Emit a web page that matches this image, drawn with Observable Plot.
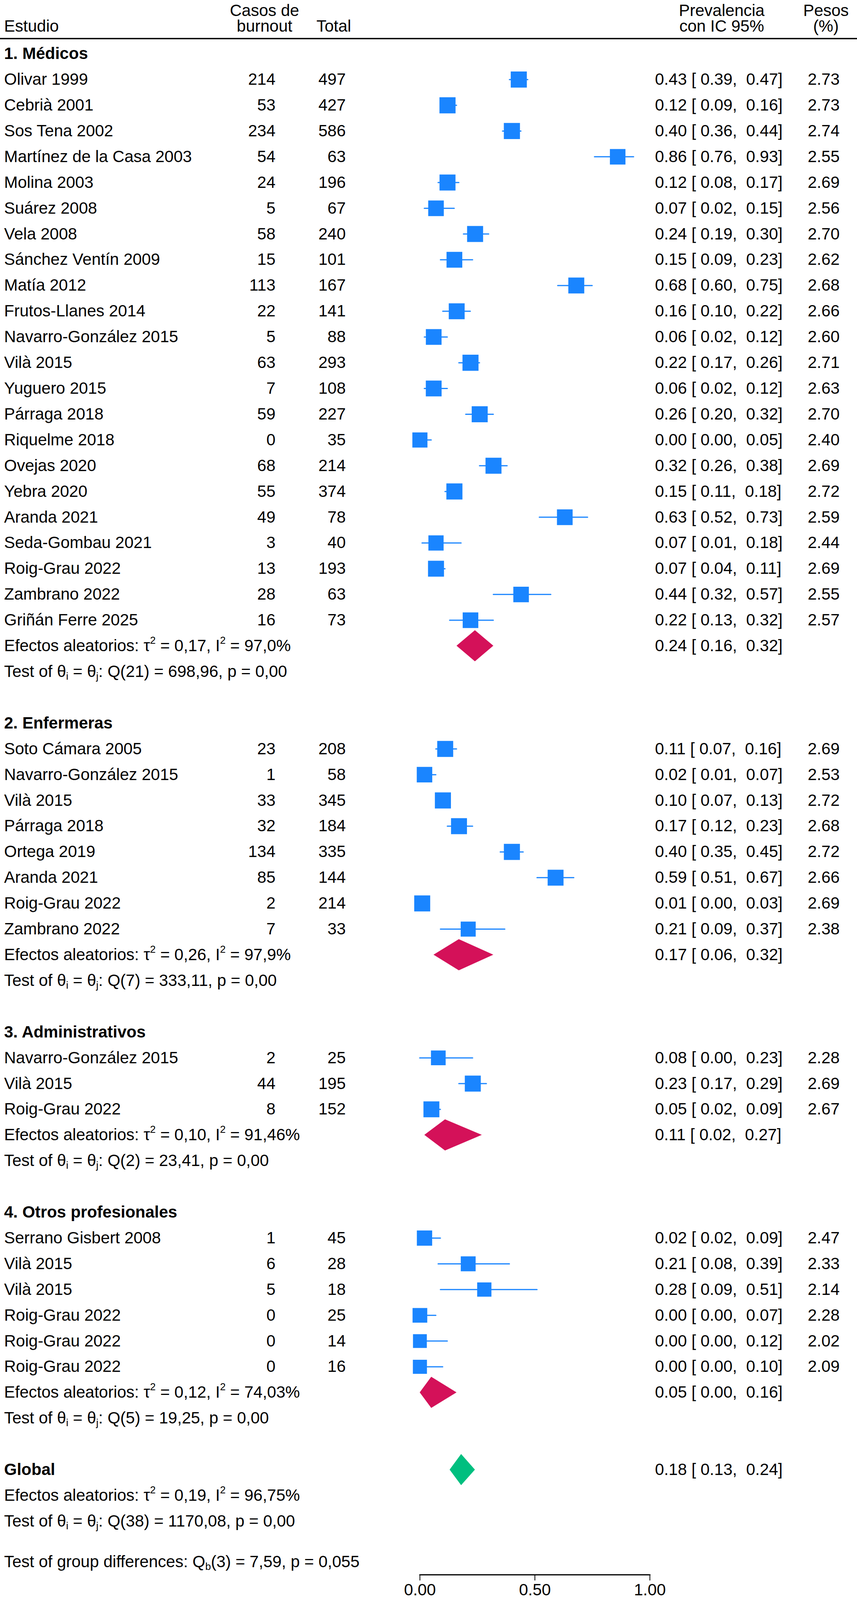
<!DOCTYPE html>
<html>
<head>
<meta charset="utf-8">
<script src="https://cdn.jsdelivr.net/npm/d3@7"></script>
<script src="https://cdn.jsdelivr.net/npm/@observablehq/plot@0.6"></script>
<style>
  html, body { margin: 0; padding: 0; background: #ffffff; overflow: hidden; }
  #chart { line-height: 0; }
  svg text { white-space: pre; }
</style>
</head>
<body>
<div id="chart"></div>
<script>
// ---------------- DATA ----------------
const groupNames = ["1. Médicos", "2. Enfermeras", "3. Administrativos", "4. Otros profesionales"];

const studies = [
  "Olivar 1999", "Cebrià 2001", "Sos Tena 2002", "Martínez de la Casa 2003", "Molina 2003",
  "Suárez 2008", "Vela 2008", "Sánchez Ventín 2009", "Matía 2012", "Frutos-Llanes 2014",
  "Navarro-González 2015", "Vilà 2015", "Yuguero 2015", "Párraga 2018", "Riquelme 2018",
  "Ovejas 2020", "Yebra 2020", "Aranda 2021", "Seda-Gombau 2021", "Roig-Grau 2022",
  "Zambrano 2022", "Griñán Ferre 2025",
  "Soto Cámara 2005", "Navarro-González 2015", "Vilà 2015", "Párraga 2018", "Ortega 2019",
  "Aranda 2021", "Roig-Grau 2022", "Zambrano 2022",
  "Navarro-González 2015", "Vilà 2015", "Roig-Grau 2022",
  "Serrano Gisbert 2008", "Vilà 2015", "Vilà 2015", "Roig-Grau 2022", "Roig-Grau 2022", "Roig-Grau 2022"
];
const studyGroup = [
  0,0,0,0,0,0,0,0,0,0,0,0,0,0,0,0,0,0,0,0,0,0,
  1,1,1,1,1,1,1,1,
  2,2,2,
  3,3,3,3,3,3
];
const cases = [
  214, 53, 234, 54, 24, 5, 58, 15, 113, 22, 5, 63, 7, 59, 0, 68, 55, 49, 3, 13, 28, 16,
  23, 1, 33, 32, 134, 85, 2, 7,
  2, 44, 8,
  1, 6, 5, 0, 0, 0
];
const totals = [
  497, 427, 586, 63, 196, 67, 240, 101, 167, 141, 88, 293, 108, 227, 35, 214, 374, 78, 40, 193, 63, 73,
  208, 58, 345, 184, 335, 144, 214, 33,
  25, 195, 152,
  45, 28, 18, 25, 14, 16
];
const prevalence = [
  0.43, 0.12, 0.40, 0.86, 0.12, 0.07, 0.24, 0.15, 0.68, 0.16, 0.06, 0.22, 0.06, 0.26, 0.00, 0.32, 0.15, 0.63, 0.07, 0.07, 0.44, 0.22,
  0.11, 0.02, 0.10, 0.17, 0.40, 0.59, 0.01, 0.21,
  0.08, 0.23, 0.05,
  0.02, 0.21, 0.28, 0.00, 0.00, 0.00
];
const ciLower = [
  0.39, 0.09, 0.36, 0.76, 0.08, 0.02, 0.19, 0.09, 0.60, 0.10, 0.02, 0.17, 0.02, 0.20, 0.00, 0.26, 0.11, 0.52, 0.01, 0.04, 0.32, 0.13,
  0.07, 0.01, 0.07, 0.12, 0.35, 0.51, 0.00, 0.09,
  0.00, 0.17, 0.02,
  0.02, 0.08, 0.09, 0.00, 0.00, 0.00
];
const ciUpper = [
  0.47, 0.16, 0.44, 0.93, 0.17, 0.15, 0.30, 0.23, 0.75, 0.22, 0.12, 0.26, 0.12, 0.32, 0.05, 0.38, 0.18, 0.73, 0.18, 0.11, 0.57, 0.32,
  0.16, 0.07, 0.13, 0.23, 0.45, 0.67, 0.03, 0.37,
  0.23, 0.29, 0.09,
  0.09, 0.39, 0.51, 0.07, 0.12, 0.10
];
const weights = [
  2.73, 2.73, 2.74, 2.55, 2.69, 2.56, 2.70, 2.62, 2.68, 2.66, 2.60, 2.71, 2.63, 2.70, 2.40, 2.69, 2.72, 2.59, 2.44, 2.69, 2.55, 2.57,
  2.69, 2.53, 2.72, 2.68, 2.72, 2.66, 2.69, 2.38,
  2.28, 2.69, 2.67,
  2.47, 2.33, 2.14, 2.28, 2.02, 2.09
];

const groupEst   = [0.24, 0.17, 0.11, 0.05];
const groupLower = [0.16, 0.06, 0.02, 0.00];
const groupUpper = [0.32, 0.32, 0.27, 0.16];
const groupTau2  = ["0,17", "0,26", "0,10", "0,12"];
const groupI2    = ["97,0%", "97,9%", "91,46%", "74,03%"];
const groupQdf   = [21, 7, 2, 5];
const groupQ     = ["698,96", "333,11", "23,41", "19,25"];
const groupP     = ["0,00", "0,00", "0,00", "0,00"];

const globalLabel = "Global";
const globalEst = 0.18, globalLower = 0.13, globalUpper = 0.24;
const globalTau2 = "0,19", globalI2 = "96,75%", globalQdf = 38, globalQ = "1170,08", globalP = "0,00";
const groupDiffDf = 3, groupDiffQ = "7,59", groupDiffP = "0,055";

const xTicks = [0, 0.5, 1];

// ---------------- LAYOUT / STYLE ----------------
const BLUE = "#1a85ff", RED = "#d41159", GREEN = "#00bf7f";
const W = 2195, H0 = 4417;
// the photographed viewport may be shorter than the nominal height: fit the whole chart vertically
const vh = window.innerHeight || H0;
const k = Math.min(1, vh / H0);
const H = Math.floor(H0 * k);
const FONT = k < 1 ? 42 : 43.5;
const mLeft = 1075, mRight = 531;
const mTop = 106 * k;
const tickSize = 15, tickPadding = 8;
const mBottom = Math.ceil(Math.max(61 * k, tickSize + tickPadding + 0.93 * FONT + 2));
const yRange = [148 * k, 4057 * k];       // pixel rows of first line and of the Global line
const diamondHalf = 0.605;                // half-height of summary diamonds, in row units
const headBase2 = 87 * k;                 // baseline of second header line
const headBase1 = Math.max(30 * k, 40);   // baseline of first header line
const headLH = (headBase2 - headBase1) / FONT;

// ---------------- BUILD ROWS ----------------
const f2 = d3.format(".2f");
const ciText = (e, l, u) => `${f2(e)} [ ${f2(l)},\u00a0\u00a0${f2(u)}]`;

const labelRows = [], boldRows = [], studyRows = [], estRows = [], summaries = [];
let row = 0;
groupNames.forEach((g, gi) => {
  boldRows.push({row, text: g}); row++;
  studies.forEach((s, i) => {
    if (studyGroup[i] !== gi) return;
    labelRows.push({row, text: s});
    studyRows.push({row, est: prevalence[i], lo: ciLower[i], hi: ciUpper[i], w: weights[i], cases: cases[i], total: totals[i]});
    estRows.push({row, text: ciText(prevalence[i], ciLower[i], ciUpper[i])});
    row++;
  });
  labelRows.push({row, text: `Efectos aleatorios: τ^2 = ${groupTau2[gi]}, I^2 = ${groupI2[gi]}`});
  summaries.push({id: gi, row, est: groupEst[gi], lo: groupLower[gi], hi: groupUpper[gi], color: RED});
  estRows.push({row, text: ciText(groupEst[gi], groupLower[gi], groupUpper[gi])});
  row++;
  labelRows.push({row, text: `Test of θ_i = θ_j: Q(${groupQdf[gi]}) = ${groupQ[gi]}, p = ${groupP[gi]}`});
  row++;
  row++; // blank line
});
boldRows.push({row, text: globalLabel});
summaries.push({id: 9, row, est: globalEst, lo: globalLower, hi: globalUpper, color: GREEN});
estRows.push({row, text: ciText(globalEst, globalLower, globalUpper)});
row++;
labelRows.push({row, text: `Efectos aleatorios: τ^2 = ${globalTau2}, I^2 = ${globalI2}`}); row++;
labelRows.push({row, text: `Test of θ_i = θ_j: Q(${globalQdf}) = ${globalQ}, p = ${globalP}`}); row++;

const diamondPts = summaries.flatMap(s => [
  {id: s.id, color: s.color, y: s.row - diamondHalf, x1: s.est, x2: s.est},
  {id: s.id, color: s.color, y: s.row, x1: s.lo, x2: s.hi},
  {id: s.id, color: s.color, y: s.row + diamondHalf, x1: s.est, x2: s.est}
]);

const common = {fontSize: FONT, fill: "black"};
const hdy = headBase2 - mTop;

const chart = Plot.plot({
  width: W, height: H,
  marginLeft: mLeft, marginRight: mRight, marginTop: mTop, marginBottom: mBottom,
  style: {fontFamily: "'Liberation Sans', Arial, Helvetica, sans-serif", fontSize: FONT + "px", color: "black", background: "white"},
  x: {domain: [0, 1]},
  y: {domain: [0, 55], range: yRange, axis: null},
  r: {type: "sqrt", domain: [0, 4], range: [0, 30.36 * k]},
  marks: [
    // header rule and axis line
    Plot.frame({anchor: "top", stroke: "black", strokeWidth: 3.5, insetLeft: -mLeft, insetRight: -mRight}),
    Plot.frame({anchor: "bottom", stroke: "black", strokeWidth: 3}),
    Plot.axisX({ticks: xTicks, tickFormat: d3.format(".2f"), tickSize, tickPadding, strokeWidth: 2, fontSize: FONT, label: null, fill: "black"}),
    // header texts
    Plot.text([{t: "Estudio"}], {text: "t", frameAnchor: "top-left", dx: -1065, dy: hdy, textAnchor: "start", lineAnchor: "bottom", ...common}),
    Plot.text([{t: "Casos de\nburnout"}], {text: "t", frameAnchor: "top-left", dx: -398, dy: hdy, textAnchor: "middle", lineAnchor: "bottom", lineHeight: headLH, ...common}),
    Plot.text([{t: "Total"}], {text: "t", frameAnchor: "top-left", dx: -265, dy: hdy, textAnchor: "start", lineAnchor: "bottom", ...common}),
    Plot.text([{t: "Prevalencia\ncon IC 95%"}], {text: "t", frameAnchor: "top-right", dx: 184, dy: hdy, textAnchor: "middle", lineAnchor: "bottom", lineHeight: headLH, ...common}),
    Plot.text([{t: "Pesos\n(%)"}], {text: "t", frameAnchor: "top-right", dx: 451, dy: hdy, textAnchor: "middle", lineAnchor: "bottom", lineHeight: headLH, ...common}),
    // CI lines and squares
    Plot.ruleY(studyRows, {y: "row", x1: "lo", x2: "hi", stroke: BLUE, strokeWidth: 3, strokeLinecap: "round"}),
    Plot.dot(studyRows, {x: "est", y: "row", r: "w", symbol: "square", fill: BLUE, stroke: null}),
    // diamonds
    Plot.areaX(diamondPts.filter(d => d.color === RED), {y: "y", x1: "x1", x2: "x2", z: "id", fill: RED, curve: "linear"}),
    Plot.areaX(diamondPts.filter(d => d.color === GREEN), {y: "y", x1: "x1", x2: "x2", z: "id", fill: GREEN, curve: "linear"}),
    // left columns
    Plot.text(labelRows, {y: "row", text: "text", frameAnchor: "left", dx: -1065, textAnchor: "start", ...common}),
    Plot.text(boldRows, {y: "row", text: "text", frameAnchor: "left", dx: -1065, textAnchor: "start", fontWeight: "bold", ...common}),
    Plot.text(studyRows, {y: "row", text: d => String(d.cases), frameAnchor: "left", dx: -370, textAnchor: "end", ...common}),
    Plot.text(studyRows, {y: "row", text: d => String(d.total), frameAnchor: "left", dx: -190, textAnchor: "end", ...common}),
    // right columns
    Plot.text(estRows, {y: "row", text: "text", frameAnchor: "right", dx: 13, textAnchor: "start", ...common}),
    Plot.text(studyRows, {y: "row", text: d => f2(d.w), frameAnchor: "right", dx: 486, textAnchor: "end", ...common}),
    // group differences test
    Plot.text([{t: `Test of group differences: Q_b(${groupDiffDf}) = ${groupDiffQ}, p = ${groupDiffP}`}],
      {text: "t", frameAnchor: "bottom-left", dx: -1065, dy: -21 * k, textAnchor: "start", lineAnchor: "bottom", ...common})
  ]
});

// sub/superscripts as real text tspans
const NS = "http://www.w3.org/2000/svg";
chart.querySelectorAll("text").forEach(t => {
  if (t.children.length) return;
  const s = t.textContent;
  if (!/[\^_]/.test(s)) return;
  const re = /([\^_])(.)/g;
  t.textContent = "";
  let last = 0, cur = 0, m;
  const add = (str, target, small) => {
    const ts = document.createElementNS(NS, "tspan");
    if (target !== cur) ts.setAttribute("dy", String(target - cur));
    if (small) ts.setAttribute("font-size", "26");
    ts.textContent = str;
    t.appendChild(ts);
    cur = target;
  };
  while ((m = re.exec(s))) {
    if (m.index > last) add(s.slice(last, m.index), 0, false);
    add(m[2], m[1] === "^" ? -19 : 7, true);
    last = m.index + m[0].length;
  }
  if (last < s.length) add(s.slice(last), 0, false);
});

document.getElementById("chart").appendChild(chart);
</script>
</body>
</html>
